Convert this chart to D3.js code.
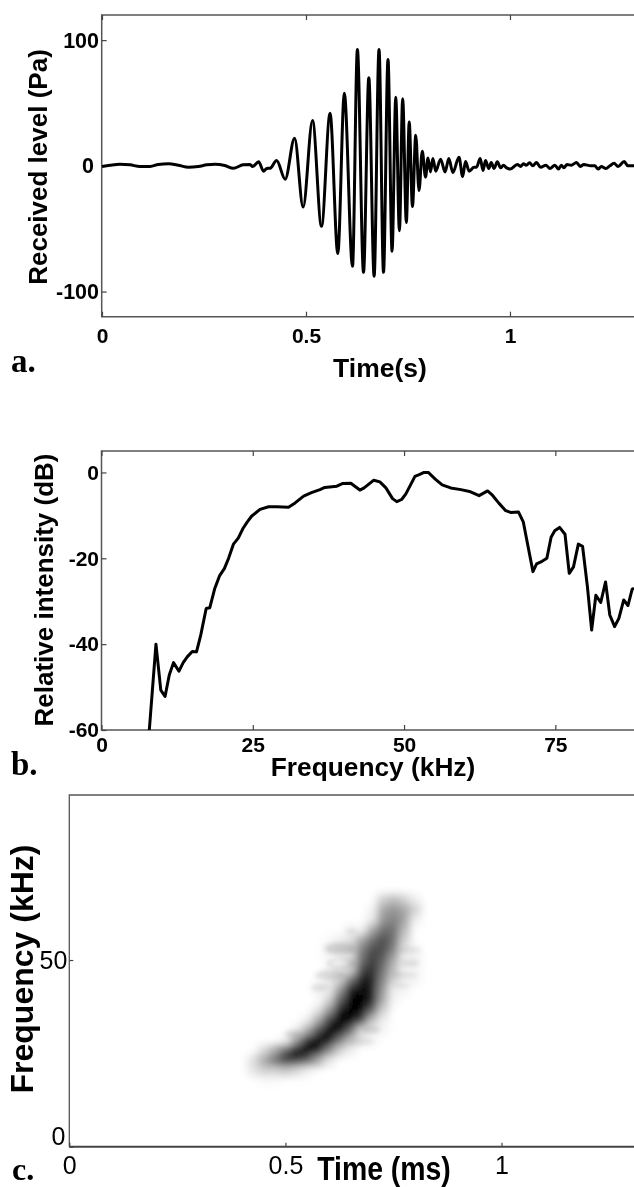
<!DOCTYPE html>
<html><head><meta charset="utf-8">
<script src="https://cdn.jsdelivr.net/npm/d3@7"></script>
<style>
html,body{margin:0;padding:0;background:#fff}
svg{display:block}
text{font-family:"Liberation Sans",Arial,sans-serif;font-weight:bold;fill:#000}
</style></head><body><svg id="c" width="634" height="1187"></svg>
<script>
// Panel a: waveform
const waveTime=[0,.020,.044,.069,.093,.118,.138,.163,.187,.212,.236,.257,.277,.301,.322,.346,.363,.369,.384,.396,.404,.412,.428,.449,.472,.493,.516,.538,.559,.578,.594,.614,.626,.641,.654,.667,.679,.690,.701,.711,.720,.729,.737,.746,.753,.761,.769,.777,.785,.793,.799,.805,.811,.818,.830,.841,.850,.860,.875,.884,.891,.900,.912,.918,.927,.934,.940,.948,.954,.961,.969,.977,.984,.992,1.000,1.018,1.026,1.033,1.040,1.048,1.056,1.065,1.075,1.088,1.098,1.110,1.119,1.126,1.132,1.140,1.150,1.163,1.173,1.181,1.198,1.208,1.216,1.224,1.235,1.245,1.255,1.265,1.280,1.289,1.304];
const wavePa=[-.5,.5,1.3,.8,-.5,-.5,1.1,1.6,.5,-1.1,-.5,.8,1.3,.3,-1.9,.8,1.1,-.5,3.2,-4.2,-2.1,-1.9,4.2,-10.6,22,-32.8,36,-48.1,41.8,-69.8,57.7,-79.9,92.6,-84.7,70.1,-87.8,92.6,-84.7,84.7,-68,54.5,-51.6,53.4,-45,34.9,-32.3,24.3,-19.6,11.6,-9,6.3,-4.8,5.8,-4.2,5.3,-4.8,5.8,-5.3,6.9,-8.5,3.4,-4.2,-1.1,-1.1,5.8,-3.7,4.2,-2.1,2.6,-2.1,3.2,-1.6,.5,-1.6,-2.6,1.1,-.5,1.6,.5,2.4,0,2.6,-1.1,.5,-2.1,.5,-2.6,.5,-1.6,1.1,.5,2.6,-.5,1.1,0,0,-2.6,-.5,-2.1,0,2.1,-.5,3.4,0,0];
const waveXTicks=[0,.5,1], waveYTicks=[-100,0,100];
// Panel b: spectrum
const specKHz=[7.9,9.0,9.8,10.5,11.2,11.9,12.8,13.5,14.2,15,15.7,16.4,17.3,17.9,18.7,19.5,20.3,21,21.8,22.6,23.4,24.1,24.8,26.2,27.6,29,30.9,32,33.4,34.7,36.1,36.9,38.9,39.8,41.2,42.7,43.4,45,46,47,48.1,48.8,49.6,50.3,51.8,52.5,53.3,54,55.2,56.3,57.7,59.4,61,62.4,63.8,64.6,65.7,66.8,67.6,68.9,69.7,70.5,71.3,71.9,72.8,73.6,74.3,74.9,75.7,76.6,77.3,78,78.8,79.5,80.3,81,81.7,82.5,83.3,84,84.8,85.5,86.3,87,87.7,88];
const specDb=[-60,-40,-50.7,-52.2,-47.2,-44.3,-46.3,-44.3,-42.9,-41.7,-41.8,-37.9,-31.7,-31.5,-27.1,-24.1,-22.4,-20,-16.7,-15.3,-13,-11.5,-10.2,-8.6,-8,-8,-8.1,-7.1,-5.5,-4.7,-4,-3.5,-3.2,-2.6,-2.5,-4.1,-3.6,-1.8,-2.2,-3.6,-6.1,-6.8,-6.3,-5,-.9,-.5,0,0,-1.6,-2.9,-3.6,-4,-4.5,-5.4,-4.3,-5.3,-7.2,-8.9,-9.3,-9.2,-11.5,-17.3,-23.1,-21.3,-20.7,-20,-15.1,-13.6,-12.8,-14.4,-23.5,-22,-16.7,-17.2,-26.6,-36.7,-28.6,-30.3,-25.5,-33.2,-35.9,-34,-29.7,-31,-27.2,-27];
const specXTicks=[0,25,50,75], specYTicks=[-60,-40,-20,0];
// Panel c: spectrogram darkness (0 white .. 9 black)
const sgTime=[.425,.45,.475,.5,.525,.55,.575,.6,.625,.65,.675,.7,.725,.75,.775,.8,.825];
const sgFreq=[68.8,66.2,63.5,60.8,58.1,55.4,52.7,50,47.3,44.6,41.9,39.2,36.5,33.9,31.2,28.5,25.8,23.1,20.4,17.7];
const sgDark=[
[0,0,0,0,0,0,0,0,0,0,0,0,0,0,0,0,0],
[0,0,0,0,0,0,0,0,0,0,0,0,1,1.5,1,.3,0],
[0,0,0,0,0,0,0,0,0,0,0,.2,2,2.5,2,1,0],
[0,0,0,0,0,0,0,0,0,0,0,.4,2.5,3,2.2,.3,0],
[0,0,0,0,0,0,0,0,0,.3,.2,2,3.5,3.5,1.5,0,0],
[0,0,0,0,0,0,0,.1,.3,.6,2,3.5,4.5,3.5,1,0,0],
[0,0,0,0,0,0,0,.4,.6,.9,3,4.5,4.5,3,.5,.2,0],
[0,0,0,0,0,0,0,.1,.1,.6,3.5,5,4,2,.3,.3,0],
[0,0,0,0,0,0,0,.2,.5,1,4.5,5.5,3.5,1.5,.2,.2,0],
[0,0,0,0,0,0,.1,.4,1,3.5,6,6,3,1,.3,.2,0],
[0,0,0,0,0,0,.3,.3,2.5,6,7.5,6,2.5,.3,.2,0,0],
[0,0,0,0,0,0,0,1,4,8,9,6,2,.2,0,0,0],
[0,0,0,0,0,0,.5,2.5,6,9,8,4,1,0,0,0,0],
[0,0,0,0,0,.3,2,5,8,8,5,1.5,.3,0,0,0,0],
[0,0,0,0,.3,2,4.5,7.5,7,4,1,.3,.2,0,0,0,0],
[0,0,0,.3,2.5,5.5,8,7,3.5,1.5,.4,.2,0,0,0,0,0],
[0,.8,2,4,6.5,8,6,3,1,.3,0,0,0,0,0,0,0],
[.7,2,3.5,5,5,4,2,.5,0,0,0,0,0,0,0,0,0],
[.5,1,1,1.2,.8,.3,0,0,0,0,0,0,0,0,0,0,0],
[0,.1,.1,0,0,0,0,0,0,0,0,0,0,0,0,0,0]];
// faint side lobes: time, frequency, half-widths, darkness
const lobeTime=[.653,.626,.630,.603,.580,.788,.788,.776,.770,.518,.699,.676,.626];
const lobeFreq=[57.8,53.1,49.1,46,42.7,52.7,49.1,46,43.1,30.2,31.3,28.1,49.1];
const lobeDt=[.014,.035,.035,.035,.022,.027,.022,.03,.02,.02,.02,.03,.02];
const lobeDf=[.7,1.6,1.5,1.3,.9,.9,.9,.9,.5,1,1,1,.7];
const lobeDark=[.3,.6,.5,.5,.4,.3,.4,.3,.3,.5,.5,.3,0];
const sgXTicks=[0,.5,1], sgYTicks=[0,50];

const svg=d3.select('#c');
const W=634;
const defs=svg.append('defs');
function blur(id,s){defs.append('filter').attr('id',id).attr('x','-30%').attr('y','-30%').attr('width','160%').attr('height','160%').append('feGaussianBlur').attr('stdDeviation',s);}
blur('soft',4.4);blur('soft2',2);
[['ca',101.7,15,533,302],['cb',101.5,451,532.5,279]].forEach(([id,x,y,w,h])=>
 defs.append('clipPath').attr('id',id).append('rect').attr('x',x).attr('y',y).attr('width',w).attr('height',h));

function frame(x0,y0,y1,color){
 svg.append('path').attr('d',`M${W},${y0}H${x0}V${y1}H${W}`).attr('fill','none').attr('stroke',color).attr('stroke-width',1.5);
}
function styleAxis(g,fs){
 g.select('.domain').remove();
 g.selectAll('line').attr('stroke','#444').attr('stroke-width',1.2);
 g.selectAll('text').style('font-size',fs+'px');
}
const fmt=d=>String(d);
// Panel a
const ax=d3.scaleLinear().domain([0,1.304]).range([102,634]);
const ay=d3.scaleLinear().domain([-120,120]).range([316.7,15]);
frame(101.7,15,316.7,'#555');
svg.append('g').attr('transform','translate(0,316.7)').call(d3.axisBottom(ax).tickValues(waveXTicks).tickFormat(fmt).tickSize(-5).tickPadding(11)).call(styleAxis,21);
svg.append('g').attr('transform','translate(0,15)').call(d3.axisTop(ax).tickValues(waveXTicks).tickFormat('').tickSize(-5)).call(styleAxis,21);
const aL=svg.append('g').attr('transform','translate(101.7,0)').call(d3.axisLeft(ay).tickValues(waveYTicks).tickFormat(fmt).tickSize(-5).tickPadding(2.7)).call(styleAxis,21.5);
aL.selectAll('text').attr('dx',d=>d===0?'-5px':null);
svg.append('path').attr('clip-path','url(#ca)')
 .attr('d',d3.line().x(d=>ax(d[0])).y(d=>ay(d[1])).curve(d3.curveMonotoneX)(waveTime.map((t,i)=>[t,wavePa[i]])))
 .attr('fill','none').attr('stroke','#000').attr('stroke-width',3).attr('stroke-linejoin','round');
svg.append('text').attr('transform','translate(46.5,167) rotate(-90)').attr('text-anchor','middle').style('font-size','26px').text('Received level (Pa)');
svg.append('text').attr('x',380).attr('y',377).attr('text-anchor','middle').style('font-size','26.5px').text('Time(s)');
svg.append('text').attr('x',11).attr('y',372).style('font-family','Liberation Serif').style('font-size','33px').text('a.');
// Panel b
const bx=d3.scaleLinear().domain([0,88]).range([101.5,634]);
const by=d3.scaleLinear().domain([-60,5]).range([730,451]);
frame(101.5,451,730,'#555');
svg.append('g').attr('transform','translate(0,730)').call(d3.axisBottom(bx).tickValues(specXTicks).tickFormat(fmt).tickSize(-5).tickPadding(7)).call(styleAxis,21);
svg.append('g').attr('transform','translate(0,451)').call(d3.axisTop(bx).tickValues(specXTicks).tickFormat('').tickSize(-5)).call(styleAxis,21);
svg.append('g').attr('transform','translate(101.5,0)').call(d3.axisLeft(by).tickValues(specYTicks).tickFormat(fmt).tickSize(-5).tickPadding(2.5)).call(styleAxis,21);
svg.append('path').attr('clip-path','url(#cb)')
 .attr('d',d3.line().x(d=>bx(d[0])).y(d=>by(d[1]))(specKHz.map((f,i)=>[f,specDb[i]])))
 .attr('fill','none').attr('stroke','#000').attr('stroke-width',3).attr('stroke-linejoin','round');
svg.append('text').attr('transform','translate(53,590) rotate(-90)').attr('text-anchor','middle').style('font-size','26px').text('Relative intensity (dB)');
svg.append('text').attr('x',373).attr('y',776).attr('text-anchor','middle').style('font-size','26.3px').text('Frequency (kHz)');
svg.append('text').attr('x',11).attr('y',775).style('font-family','Liberation Serif').style('font-size','33px').text('b.');
// Panel c
const cx=d3.scaleLinear().domain([0,1.3065]).range([69.3,634]);
const cy=d3.scaleLinear().domain([0,94.2]).range([1146.7,795]);
const darkUnit=d3.scalePow().exponent(.88).domain([0,6.8]).range([0,1]).clamp(true);
const dark=v=>d3.interpolateRgb('#ffffff','#000000')(darkUnit(v));
const cw=cx(.025)-cx(0), ch=cy(0)-cy(2.69);
const lobes=lobeTime.map((t,i)=>({t,f:lobeFreq[i],dt:lobeDt[i],df:lobeDf[i],v:lobeDark[i]}));
svg.append('g').attr('filter','url(#soft2)').selectAll('ellipse').data(lobes).join('ellipse')
 .attr('cx',d=>cx(d.t)).attr('cy',d=>cy(d.f)).attr('rx',d=>cx(d.dt)-cx(0)).attr('ry',d=>cy(0)-cy(d.df)).attr('fill',d=>dark(d.v));
const cells=[];
sgDark.forEach((row,r)=>row.forEach((v,c)=>{if(v>0)cells.push({t:sgTime[c],f:sgFreq[r],v});}));
svg.append('g').attr('filter','url(#soft)').style('mix-blend-mode','multiply').selectAll('rect').data(cells).join('rect')
 .attr('x',d=>cx(d.t)-cw/2).attr('y',d=>cy(d.f)-ch/2).attr('width',cw+.5).attr('height',ch+.5)
 .attr('fill',d=>dark(d.v));
svg.append('path').attr('d',`M${W},795H69.3V1146.7`).attr('fill','none').attr('stroke','#555').attr('stroke-width',1.3);
svg.append('path').attr('d',`M69.3,1146.7H${W}`).attr('fill','none').attr('stroke','#444').attr('stroke-width',2);
const cB=svg.append('g').attr('transform','translate(0,1146.7)').call(d3.axisBottom(cx).tickValues(sgXTicks).tickFormat(fmt).tickSize(-4).tickPadding(10));
styleAxis(cB,25);
cB.selectAll('text').style('font-weight','normal');
const cL=svg.append('g').attr('transform','translate(69.3,0)').call(d3.axisLeft(cy).tickValues(sgYTicks).tickFormat(fmt).tickSize(-4).tickPadding(3));
styleAxis(cL,25);
cL.selectAll('text').style('font-weight','normal').attr('dy',d=>d===0?'-2px':'0.32em').attr('dx',d=>d===0?'-1px':'1px');
svg.append('text').attr('transform','translate(384,1180) scale(1.42,1.62)').attr('text-anchor','middle').style('font-size','20px').text('Time (ms)');
svg.append('text').attr('transform','translate(33,969) rotate(-90)').attr('text-anchor','middle').style('font-size','32px').text('Frequency (kHz)');
svg.append('text').attr('x',12).attr('y',1180).style('font-family','Liberation Serif').style('font-size','32px').text('c.');
</script></body></html>
